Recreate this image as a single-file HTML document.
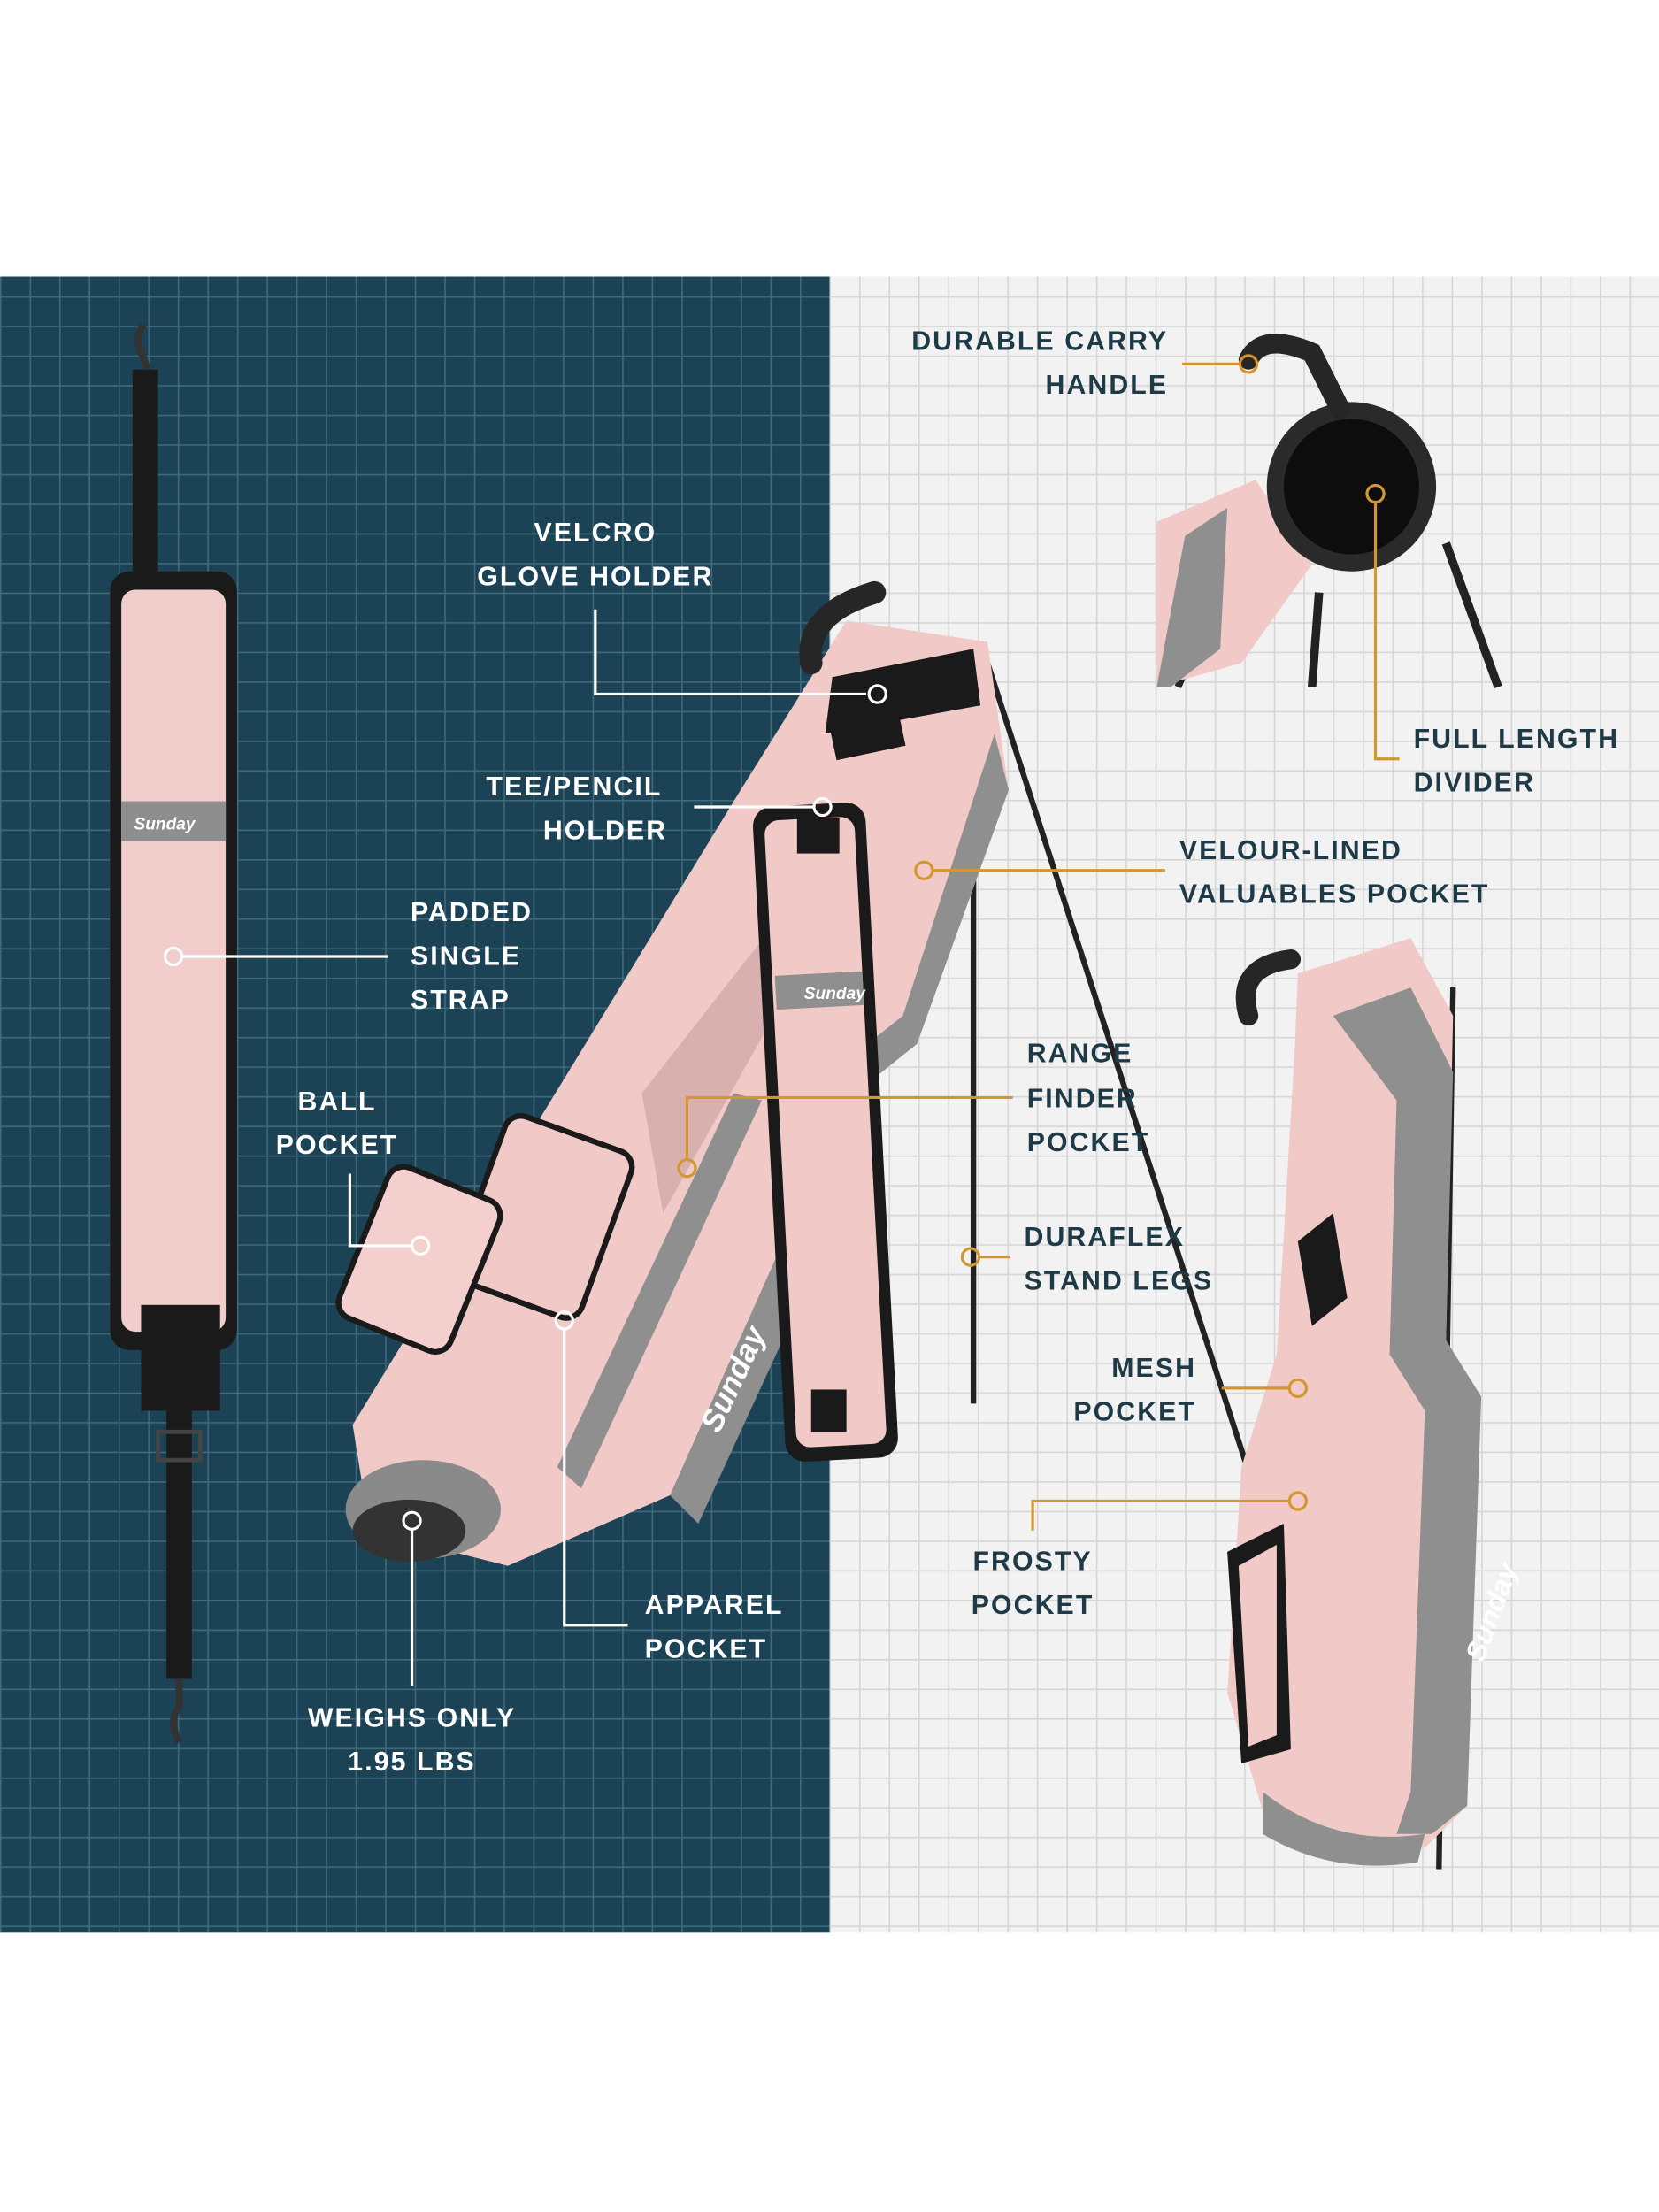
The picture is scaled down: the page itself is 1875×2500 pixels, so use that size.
<!DOCTYPE html>
<html><head><meta charset="utf-8"><style>
html,body{margin:0;padding:0;background:#fff}
svg{display:block}
text{font-family:"Liberation Sans","DejaVu Sans",sans-serif;font-weight:bold;font-size:19px;letter-spacing:1.3px}
.w{fill:#fff}.d{fill:#1f3a47}
</style></head><body>
<svg width="1875" height="2500" viewBox="0 0 1176 1568" xmlns="http://www.w3.org/2000/svg">
<defs>
<pattern id="gd" width="21" height="21" patternUnits="userSpaceOnUse"><rect width="21" height="21" fill="#1c4256"/><path d="M0 0.5H21M0.5 0V21" stroke="#3f6a7c" stroke-width="1"/></pattern>
<pattern id="gl" width="21" height="21" patternUnits="userSpaceOnUse"><rect width="21" height="21" fill="#f2f2f2"/><path d="M0 0.5H21M0.5 0V21" stroke="#d6d6d6" stroke-width="1"/></pattern>
</defs>
<rect x="0" y="0" width="1176" height="1568" fill="#fff"/>
<rect x="0" y="196" width="588" height="1174" fill="url(#gd)"/>
<rect x="588" y="196" width="588" height="1174" fill="url(#gl)"/>

<!-- left strap -->
<path d="M102 230 q-8 10 0 24 l4 12" stroke="#333" stroke-width="5" fill="none"/>
<rect x="94" y="262" width="18" height="150" fill="#1a1a1a"/>
<rect x="78" y="405" width="90" height="552" rx="14" fill="#1a1a1a"/>
<rect x="86" y="418" width="74" height="526" rx="10" fill="#f1cdcb"/>
<rect x="86" y="568" width="74" height="28" fill="#8e8e8e"/>
<text x="95" y="588" style="font-size:12px;font-style:italic;letter-spacing:0" fill="#fff">Sunday</text>
<rect x="100" y="925" width="56" height="75" fill="#1a1a1a"/>
<rect x="118" y="1000" width="18" height="190" fill="#1a1a1a"/>
<rect x="112" y="1015" width="30" height="20" fill="none" stroke="#444" stroke-width="3"/>
<path d="M127 1190 v20 q-8 10 0 25" stroke="#333" stroke-width="5" fill="none"/>

<!-- main bag legs -->
<line x1="690" y1="480" x2="690" y2="995" stroke="#222" stroke-width="4"/>
<line x1="700" y1="470" x2="905" y2="1105" stroke="#222" stroke-width="4"/>
<!-- main bag body -->
<polygon points="250,1010 525,560 600,440 700,455 715,560 650,740 600,780 475,1060 360,1110 262,1085" fill="#f1cac8"/>
<polygon points="600,780 650,740 715,560 705,520 640,720 590,760" fill="#8f8f8f"/>
<polygon points="475,1060 600,780 620,790 610,830 495,1080" fill="#8f8f8f"/>
<polygon points="395,1040 520,775 540,780 412,1055" fill="#8f8f8f"/>
<ellipse cx="300" cy="1070" rx="55" ry="35" fill="#8a8a8a"/>
<ellipse cx="290" cy="1085" rx="40" ry="22" fill="#333"/>
<polygon points="455,775 545,660 560,700 470,860" fill="#d8b0b0"/>
<!-- pockets -->
<rect x="338" y="800" width="95" height="125" rx="12" fill="#f1cac8" stroke="#1a1a1a" stroke-width="4" transform="rotate(20 385 862)"/>
<rect x="255" y="835" width="85" height="115" rx="12" fill="#f3cfcd" stroke="#1a1a1a" stroke-width="4" transform="rotate(22 297 892)"/>
<!-- top / handle -->
<path d="M575 470 q-5 -35 45 -50" stroke="#262626" stroke-width="16" fill="none" stroke-linecap="round"/>
<polygon points="590,480 690,460 695,500 585,520" fill="#1a1a1a"/>
<rect x="590" y="510" width="50" height="24" fill="#1a1a1a" transform="rotate(-12 615 522)"/>
<!-- strap on bag -->
<rect x="545" y="570" width="80" height="465" rx="14" fill="#1a1a1a" transform="rotate(-3 585 800)"/>
<rect x="553" y="580" width="64" height="445" rx="10" fill="#f1cac8" transform="rotate(-3 585 800)"/>
<rect x="555" y="690" width="62" height="24" fill="#8f8f8f" transform="rotate(-3 585 800)"/>
<text x="570" y="708" style="font-size:12px;font-style:italic;letter-spacing:0" fill="#fff">Sunday</text>
<rect x="565" y="580" width="30" height="25" fill="#1a1a1a"/>
<rect x="575" y="985" width="25" height="30" fill="#1a1a1a"/>
<text x="480" y="1010" style="font-size:22px;font-style:italic;letter-spacing:0" fill="#fff" transform="rotate(-65 500 990)">Sunday</text>

<!-- inset top right -->
<line x1="875" y1="395" x2="835" y2="487" stroke="#222" stroke-width="5"/>
<line x1="1025" y1="385" x2="1062" y2="487" stroke="#222" stroke-width="6"/>
<line x1="935" y1="420" x2="930" y2="487" stroke="#222" stroke-width="6"/>
<polygon points="820,370 890,340 930,400 880,470 820,487" fill="#f1cac8"/>
<polygon points="840,380 870,360 865,460 830,487 820,487" fill="#8f8f8f"/>
<circle cx="958" cy="345" r="60" fill="#2a2a2a"/>
<circle cx="958" cy="345" r="48" fill="#0d0d0d"/>
<path d="M885 255 q10 -20 45 -5 l20 40" stroke="#262626" stroke-width="14" fill="none" stroke-linecap="round"/>

<!-- right bag -->
<line x1="1030" y1="700" x2="1020" y2="1325" stroke="#222" stroke-width="4"/>
<path d="M885 720 q-10 -35 30 -40" stroke="#262626" stroke-width="14" fill="none" stroke-linecap="round"/>
<polygon points="920,690 1000,665 1030,720 1025,950 1050,990 1040,1280 1010,1310 900,1300 870,1200 880,1040 905,960 918,740" fill="#f1cac8"/>
<polygon points="945,720 1000,700 1030,760 1025,950 1050,990 1040,1280 1015,1300 990,1300 1000,1270 1010,1000 985,960 990,780" fill="#8f8f8f"/>
<polygon points="920,880 945,860 955,920 930,940" fill="#1a1a1a"/>
<polygon points="870,1100 910,1080 915,1240 880,1250" fill="#1a1a1a"/>
<polygon points="878,1110 905,1095 905,1230 885,1238" fill="#f1cac8"/>
<path d="M895 1270 q50 40 115 30 l-5 20 q-60 10 -110 -20z" fill="#8f8f8f"/>
<text x="1010" y="1180" style="font-size:20px;font-style:italic;letter-spacing:0" fill="#fff" transform="rotate(-70 1030 1150)">Sunday</text>

<!-- connectors dark side -->
<g stroke="#fff" stroke-width="2" fill="none">
<path d="M422 432 V492 H614"/><circle cx="622" cy="492" r="6"/>
<path d="M492 572 H577"/><circle cx="583" cy="572" r="6"/>
<path d="M275 678 H129"/><circle cx="123" cy="678" r="6"/>
<path d="M248 832 V883 H292"/><circle cx="298" cy="883" r="6"/>
<path d="M292 1195 V1084"/><circle cx="292" cy="1078" r="6"/>
<path d="M400 942 V1152 H445"/><circle cx="400" cy="936" r="6"/>
</g>
<!-- connectors light side -->
<g stroke="#d4962e" stroke-width="2" fill="none">
<path d="M838 258 H879"/><circle cx="885" cy="258" r="6"/>
<path d="M975 356 V538 H992"/><circle cx="975" cy="350" r="6"/>
<path d="M661 617 H826"/><circle cx="655" cy="617" r="6"/>
<path d="M487 822 V778 H718"/><circle cx="487" cy="828" r="6"/>
<path d="M694 891 H716"/><circle cx="688" cy="891" r="6"/>
<path d="M866 984 H914"/><circle cx="920" cy="984" r="6"/>
<path d="M732 1085 V1064 H914"/><circle cx="920" cy="1064" r="6"/>
</g>

<!-- labels -->
<g class="w" text-anchor="middle">
<text x="422" y="384">VELCRO</text><text x="422" y="415">GLOVE HOLDER</text>
<text x="407" y="564">TEE/PENCIL</text><text x="429" y="595">HOLDER</text>
<text x="239" y="787">BALL</text><text x="239" y="818">POCKET</text>
<text x="292" y="1224">WEIGHS ONLY</text><text x="292" y="1255">1.95 LBS</text>
</g>
<g class="w">
<text x="291" y="653">PADDED</text><text x="291" y="684">SINGLE</text><text x="291" y="715">STRAP</text>
<text x="457" y="1144">APPAREL</text><text x="457" y="1175">POCKET</text>
</g>
<g class="d" text-anchor="end">
<text x="828" y="248">DURABLE CARRY</text><text x="828" y="279">HANDLE</text>
<text x="848" y="976">MESH</text><text x="848" y="1007">POCKET</text>
</g>
<g class="d">
<text x="1002" y="530">FULL LENGTH</text><text x="1002" y="561">DIVIDER</text>
<text x="836" y="609">VELOUR-LINED</text><text x="836" y="640">VALUABLES POCKET</text>
<text x="728" y="753">RANGE</text><text x="728" y="785">FINDER</text><text x="728" y="816">POCKET</text>
<text x="726" y="883">DURAFLEX</text><text x="726" y="914">STAND LEGS</text>
</g>
<g class="d" text-anchor="middle">
<text x="732" y="1113">FROSTY</text><text x="732" y="1144">POCKET</text>
</g>
</svg>
</body></html>
